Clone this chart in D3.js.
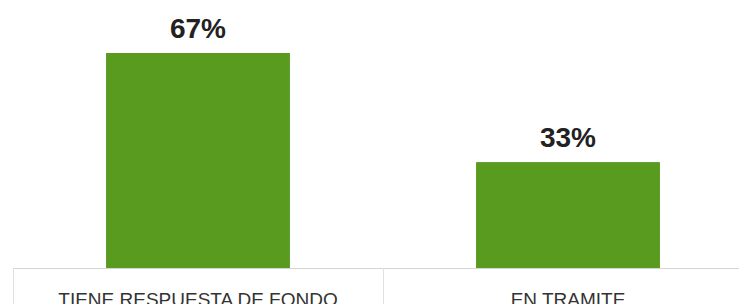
<!DOCTYPE html>
<html>
<head>
<meta charset="utf-8">
<script src="https://cdn.jsdelivr.net/npm/d3@7"></script>
<style>
  body { margin: 0; background: #fff; }
  svg { display: block; font-family: "Liberation Sans", Arial, sans-serif; }
</style>
</head>
<body>
<div id="chart"></div>
<script>
var categories = ["TIENE RESPUESTA DE FONDO", "EN TRAMITE"];
var values = [67, 33];
var valueLabels = ["67%", "33%"];

var width = 739, height = 304;
var baseline = 268;

var svg = d3.select("#chart").append("svg")
  .attr("width", width)
  .attr("height", height);

var xScale = d3.scaleBand()
  .domain(categories)
  .range([13, 753])
  .paddingInner(0.503)
  .paddingOuter(0.2515);

var yScale = d3.scaleLinear()
  .domain([0, 67])
  .range([baseline, 53]);

// axis line and category separators
svg.append("line")
  .attr("x1", 13).attr("x2", width)
  .attr("y1", baseline + 0.5).attr("y2", baseline + 0.5)
  .attr("stroke", "#d4d4d4");

var step = xScale.step();
var bounds = categories.map(function (c) { return xScale(c) - xScale.paddingOuter() * step; });
svg.selectAll(".sep").data(bounds)
  .enter()
  .append("line")
  .attr("class", "sep")
  .attr("x1", function (d) { return Math.round(d) + 0.5; })
  .attr("x2", function (d) { return Math.round(d) + 0.5; })
  .attr("y1", baseline)
  .attr("y2", height)
  .attr("stroke", "#e0e0e0");

// bars
svg.selectAll(".bar").data(values)
  .enter()
  .append("rect")
  .attr("class", "bar")
  .attr("x", function (d, i) { return xScale(categories[i]); })
  .attr("y", function (d) { return yScale(d); })
  .attr("width", xScale.bandwidth())
  .attr("height", function (d) { return baseline - yScale(d); })
  .attr("fill", "#589b1f");

// value labels
svg.selectAll(".val").data(values)
  .enter()
  .append("text")
  .attr("class", "val")
  .attr("x", function (d, i) { return xScale(categories[i]) + xScale.bandwidth() / 2; })
  .attr("y", function (d) { return yScale(d) - 15; })
  .attr("text-anchor", "middle")
  .attr("font-size", 28)
  .attr("font-weight", "bold")
  .attr("fill", "#222")
  .text(function (d, i) { return valueLabels[i]; });

// category labels (cut off by the bottom edge, as in the original)
var axis = svg.append("g")
  .attr("transform", "translate(0," + baseline + ")")
  .call(d3.axisBottom(xScale).tickSize(0).tickPadding(25));
axis.select(".domain").remove();
axis.selectAll("text")
  .attr("font-size", 19)
  .attr("font-family", "Liberation Sans, Arial, sans-serif")
  .attr("fill", "#333");
</script>
</body>
</html>
